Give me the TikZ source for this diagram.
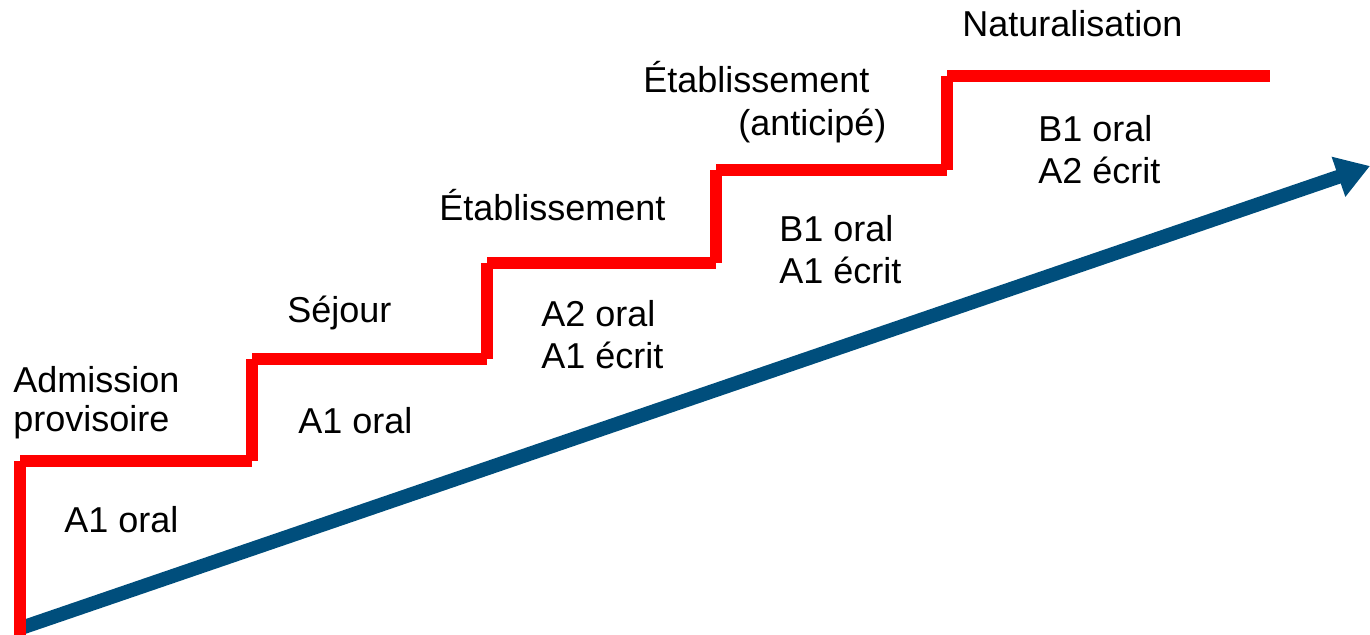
\documentclass[tikz,border=0pt]{standalone}
\usepackage{fontspec}
\setmainfont{Liberation Sans}
\usetikzlibrary{arrows.meta}
\definecolor{stairred}{RGB}{255,0,0}
\definecolor{progblue}{RGB}{0,78,124}
\tikzset{
  lbl/.style={anchor=base west, inner sep=0pt, font=\fontsize{27}{31.5}\selectfont},
  stair/.style={draw=stairred, line width=9.6pt, line cap=butt},
  progress/.style={draw=progblue, line width=10.5pt, -{Triangle[length=25pt,width=30pt]}}
}
\begin{document}
\begin{tikzpicture}[x=0.75pt,y=-0.75pt]
\useasboundingbox (0,0) rectangle (1370,635);

% rising progress arrow
\coordinate (arrS) at (21,628);
\coordinate (arrE) at (1370,166);
\draw[progress] (arrS) -- (arrE);

% staircase corners
\coordinate (p0) at (20,635);
\coordinate (p1) at (20,461);
\coordinate (p2) at (252,461);
\coordinate (p3) at (252,359);
\coordinate (p4) at (487,359);
\coordinate (p5) at (487,263);
\coordinate (p6) at (716,263);
\coordinate (p7) at (716,170);
\coordinate (p8) at (947,170);
\coordinate (p9) at (947,76);
\coordinate (p10) at (1270,76);

% each step is its own segment, so the outer corners stay notched
\draw[stair] (p0) -- (p1) (p1) -- (p2) (p2) -- (p3) (p3) -- (p4) (p4) -- (p5)
             (p5) -- (p6) (p6) -- (p7) (p7) -- (p8) (p8) -- (p9) (p9) -- (p10);

% permit names above the steps
\node[lbl] (adm1) at (13,392) {Admission};
\node[lbl] (adm2) at (13,431) {provisoire};
\node[lbl] (sej)  at (287,322) {Séjour};
\node[lbl] (eta)  at (439,220) {Établissement};
\node[lbl] (etaA1) at (643,93) {Établissement};
\node[lbl] (etaA2) at (738,135) {(anticipé)};
\node[lbl] (nat)  at (962,37) {Naturalisation};

% language levels under the steps
\node[lbl] (lv1)  at (64,532) {A1 oral};
\node[lbl] (lv2)  at (298,433) {A1 oral};
\node[lbl] (lv3a) at (541,326) {A2 oral};
\node[lbl] (lv3b) at (541,368) {A1 écrit};
\node[lbl] (lv4a) at (779,241) {B1 oral};
\node[lbl] (lv4b) at (779,283) {A1 écrit};
\node[lbl] (lv5a) at (1038,141) {B1 oral};
\node[lbl] (lv5b) at (1038,183) {A2 écrit};
\end{tikzpicture}
\end{document}
